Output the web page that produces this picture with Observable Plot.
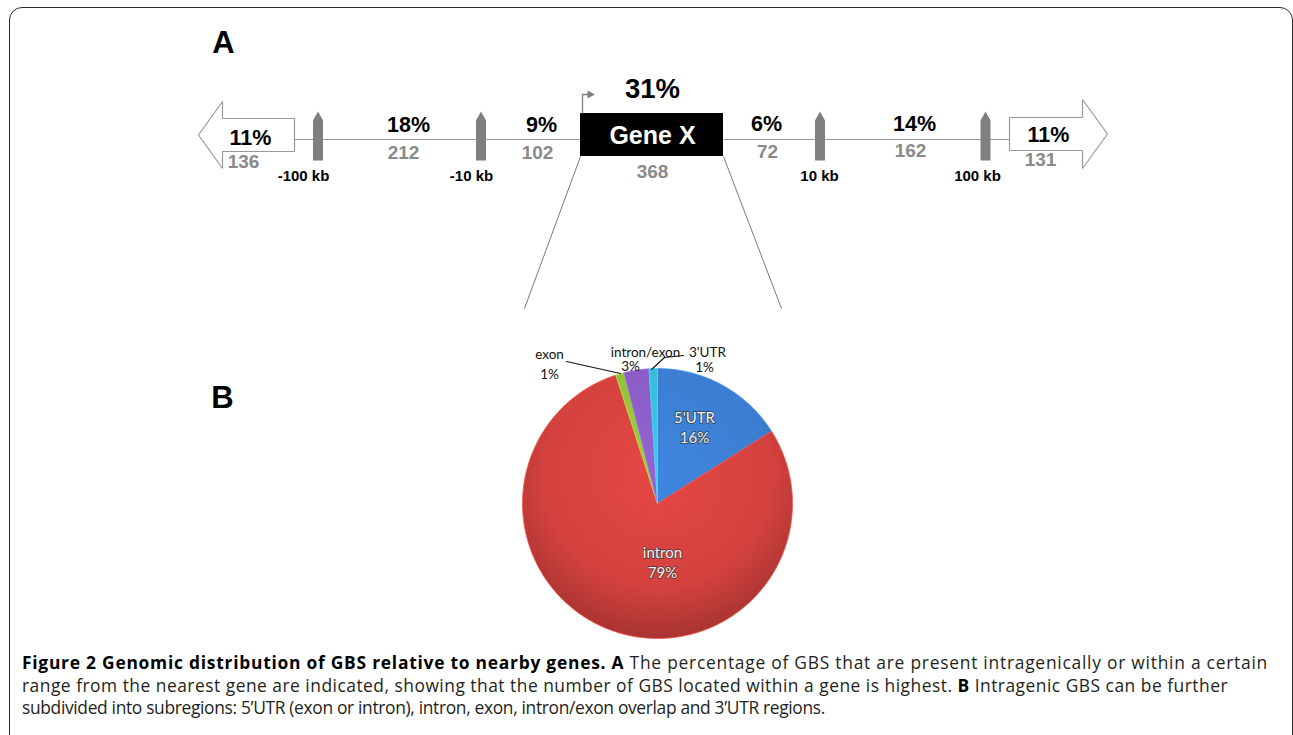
<!DOCTYPE html>
<html><head><meta charset="utf-8">
<script src="https://cdn.jsdelivr.net/npm/d3@7"></script>
<script src="https://cdn.jsdelivr.net/npm/@observablehq/plot@0.6"></script>
<style>
body{margin:0;background:#fff;width:1293px;height:735px;overflow:hidden;position:relative;font-family:"Liberation Sans",Arial,sans-serif}
#frame{position:absolute;left:9px;top:7px;width:1284px;height:800px;border:1.6px solid #2b2b2b;border-radius:13px;box-sizing:border-box}
#chart{position:absolute;left:0;top:0}
#caption{position:absolute;left:22px;top:651px;font-family:"Open Sans",sans-serif;font-size:17.4px;line-height:22.5px;color:#231f20;white-space:nowrap}
#caption b{color:#000}
#caption span{display:block}
</style></head><body>
<div id="frame"></div>
<div id="chart"></div>
<div id="caption">
<span><b>Figure 2 Genomic distribution of GBS relative to nearby genes. A</b> The percentage of GBS that are present intragenically or within a certain</span>
<span>range from the nearest gene are indicated, showing that the number of GBS located within a gene is highest. <b>B</b> Intragenic GBS can be further</span>
<span>subdivided into subregions: 5’UTR (exon or intron), intron, exon, intron/exon overlap and 3’UTR regions.</span>
</div>
<script>
// ---------------- data ----------------
const regionNames = ["> 100 kb upstream", "-100 to -10 kb", "-10 to 0 kb", "Gene X", "0 to 10 kb", "10 to 100 kb", "> 100 kb downstream"];
const regionPercent = [11, 18, 9, 31, 6, 14, 11];
const regionCount = [136, 212, 102, 368, 72, 162, 131];
const boundaryLabels = ["-100 kb", "-10 kb", "10 kb", "100 kb"];
const subregions = ["5'UTR", "intron", "exon", "intron/exon", "3'UTR"];
const subPercent = [16, 79, 1, 3, 1];
const geneLabel = "Gene X";
const panelLabels = ["A", "B"];

// ---------------- layout (schematic, pixels) ----------------
const pctX = [250, 408, 541, 652, 766, 914, 1048];
const pctY = [144, 131, 131, 97, 130, 130, 141];
const cntX = [243, 403, 537, 652, 767, 910, 1040];
const cntY = [167, 158, 158, 177, 157, 156, 165];
const markerX = [317.5, 480.5, 819.5, 985];
const kbX = [303, 471, 819, 977];
const kbY = 180;
const axisY = 139;
const gene = {x1: 580, x2: 723, y1: 113, y2: 156};
const pie = {cx: 657, cy: 503, r: 135};
const pieColors = ["#3b7dd0", "#d4423e", "#93c13a", "#8a5cc4", "#35bcd8"];
const inLabelPos = [[694, 418, 438], [662, 553, 573]];
const outLabelPos = {exon: [549, 354, 549, 374], "intron/exon": [645, 352, 630, 366], "3'UTR": [707, 352, 704, 367]};
const panelPos = [[223, 52], [222, 407]];

// ---------------- derived ----------------
const regions = regionNames.map((name, i) => ({name, pct: regionPercent[i], cnt: regionCount[i], px: pctX[i], py: pctY[i], cx: cntX[i], cy: cntY[i]}));
const markers = boundaryLabels.map((label, i) => ({label, x: markerX[i], lx: kbX[i]}));
const markerPoly = m => [[m.x-5,160],[m.x-5,120],[m.x,111],[m.x+5,120],[m.x+5,160],[m.x-5,160]].map(([x,y])=>({x,y}));
const leftArrow = [[198,134.5],[222,101],[222,118],[294,118],[294,151],[222,151],[222,168],[198,134.5]].map(([x,y])=>({x,y}));
const rightArrow = [[1107,133.5],[1082,99],[1082,117],[1009,117],[1009,150],[1082,150],[1082,168],[1107,133.5]].map(([x,y])=>({x,y}));

const arcs = d3.pie().sort(null).value(d => d)(subPercent);
const slices = arcs.map((a, i) => {
  const pts = [{x: pie.cx, y: pie.cy}];
  const n = Math.max(2, Math.ceil((a.endAngle - a.startAngle) / (Math.PI/360)));
  for (let k = 0; k <= n; k++) {
    const t = a.startAngle + (a.endAngle - a.startAngle) * k / n;
    pts.push({x: pie.cx + pie.r*Math.sin(t), y: pie.cy - pie.r*Math.cos(t)});
  }
  pts.push({x: pie.cx, y: pie.cy});
  return {name: subregions[i], value: subPercent[i], pts, color: pieColors[i], idx: i};
});

const inLabels = [];
[0, 1].forEach((i, j) => {
  const [x, y1, y2] = inLabelPos[j];
  inLabels.push({x, y: y1, t: subregions[i]}, {x, y: y2, t: subPercent[i] + "%"});
});
const outLabels = [];
[2, 3, 4].forEach(i => {
  const [x1, y1, x2, y2] = outLabelPos[subregions[i]];
  outLabels.push({x: x1, y: y1, t: subregions[i]}, {x: x2, y: y2, t: subPercent[i] + "%"});
});
const leaders = [
  [{x:566,y:361},{x:620,y:373}],
  [{x:651,y:369},{x:664,y:357},{x:683,y:355}]
];

const F = "Liberation Sans";
const defsMark = () => {
  const defs = d3.create("svg:defs");
  pieColors.forEach((c, i) => {
    const g = defs.append("radialGradient").attr("id", "pg" + i).attr("gradientUnits", "userSpaceOnUse")
      .attr("cx", pie.cx).attr("cy", pie.cy - 30).attr("r", pie.r * 1.2);
    g.append("stop").attr("offset", "0%").attr("stop-color", d3.color(c).brighter(0.2).formatHex());
    g.append("stop").attr("offset", "70%").attr("stop-color", c);
    g.append("stop").attr("offset", "100%").attr("stop-color", d3.color(c).darker(0.6).formatHex());
  });
  return defs.node();
};

const plot = Plot.plot({
  width: 1293, height: 645, margin: 0,
  x: {type: "identity", axis: null}, y: {type: "identity", axis: null},
  style: {background: "transparent", overflow: "visible"},
  marks: [
    defsMark,
    // axis line
    Plot.link([{x1: 294, x2: gene.x1}, {x1: gene.x2, x2: 1009}], {x1: "x1", x2: "x2", y1: axisY, y2: axisY, stroke: "#9a9a9a", strokeWidth: 1.2}),
    // end arrows
    Plot.line(leftArrow, {x: "x", y: "y", fill: "white", stroke: "#9a9a9a", strokeWidth: 1.2, strokeLinejoin: "miter"}),
    Plot.line(rightArrow, {x: "x", y: "y", fill: "white", stroke: "#9a9a9a", strokeWidth: 1.2, strokeLinejoin: "miter"}),
    // boundary markers
    ...markers.map(m => Plot.line(markerPoly(m), {x: "x", y: "y", fill: "#7f7f7f", stroke: "none"})),
    Plot.text(markers, {x: "lx", y: kbY, text: "label", fontSize: 15, fontWeight: "bold", fontFamily: F, fill: "#000", lineAnchor: "bottom"}),
    // gene box
    Plot.rect([gene], {x1: "x1", x2: "x2", y1: "y1", y2: "y2", fill: "#000"}),
    Plot.text([geneLabel], {x: (gene.x1 + gene.x2)/2 + 0.5, y: 143.5, text: d => d, fontSize: 25, fontWeight: "bold", fontFamily: F, fill: "#fff", lineAnchor: "bottom"}),
    // TSS arrow
    Plot.line([{x:582,y:113},{x:582,y:94},{x:588,y:94}], {x: "x", y: "y", stroke: "#808080", strokeWidth: 1.3, strokeLinejoin: "miter", strokeLinecap: "butt"}),
    Plot.line([{x:587,y:90},{x:594.5,y:94},{x:587,y:98},{x:587,y:90}], {x: "x", y: "y", fill: "#808080", stroke: "none"}),
    // region labels
    Plot.text(regions.filter(d => d.name !== geneLabel), {x: "px", y: "py", text: d => d.pct + "%", fontSize: 21.5, fontWeight: "bold", fontFamily: F, fill: "#000", lineAnchor: "bottom"}),
    Plot.text(regions.filter(d => d.name === geneLabel), {x: "px", y: "py", text: d => d.pct + "%", fontSize: 27.5, fontWeight: "bold", fontFamily: F, fill: "#000", lineAnchor: "bottom"}),
    Plot.text(regions, {x: "cx", y: "cy", text: d => String(d.cnt), fontSize: 19, fontWeight: "bold", fontFamily: F, fill: "#8a8a8a", lineAnchor: "bottom"}),
    // zoom lines
    Plot.link([{x1: gene.x1, y1: gene.y2, x2: 524, y2: 308}, {x1: gene.x2, y1: gene.y2, x2: 781, y2: 308}], {x1: "x1", y1: "y1", x2: "x2", y2: "y2", stroke: "#7a7a7a", strokeWidth: 1}),
    // pie
    ...slices.map(s => Plot.line(s.pts, {x: "x", y: "y", fill: `url(#pg${s.idx})`, stroke: d3.color(s.color).brighter(0.5).formatHex(), strokeWidth: 0.8, strokeLinejoin: "round"})),
    Plot.text(inLabels, {x: "x", y: "y", text: "t", fontSize: 15, fontFamily: "Lato", fill: "#f3f3f3", stroke: "#333", strokeWidth: 1.8, paintOrder: "stroke", strokeOpacity: 0.7}),
    ...leaders.map(l => Plot.line(l, {x: "x", y: "y", stroke: "#111", strokeWidth: 1.1, curve: "linear"})),
    Plot.text(outLabels, {x: "x", y: "y", text: "t", fontSize: 13.5, fontFamily: "Lato", fill: "#111"}),
    // panel labels
    Plot.text(panelLabels.map((t, i) => ({t, x: panelPos[i][0], y: panelPos[i][1]})), {x: "x", y: "y", text: "t", fontSize: 31, fontWeight: "bold", fontFamily: F, fill: "#000", lineAnchor: "bottom"})
  ]
});
document.getElementById("chart").appendChild(plot);

// fit caption lines to reference widths
const targets = [1246, 1206, 803];
const spans = document.querySelectorAll("#caption span");
spans.forEach((s, i) => {
  s.style.display = "inline-block";
  const w = s.getBoundingClientRect().width;
  const n = s.textContent.length;
  s.style.letterSpacing = ((targets[i] - w) / n) + "px";
  s.style.display = "block";
});
</script>
</body></html>
